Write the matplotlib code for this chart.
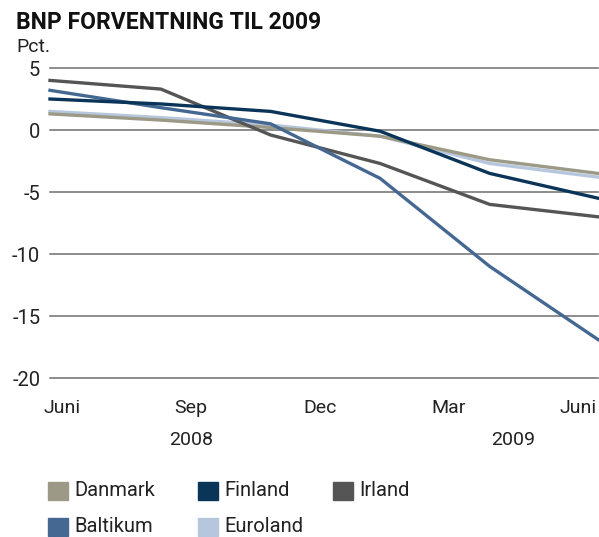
import matplotlib
matplotlib.use("Agg")
import matplotlib.pyplot as plt
from matplotlib.patches import Rectangle

plt.rcParams['font.family'] = ['Roboto', 'DejaVu Sans']

# forecast dates, months after June 2008
months = [-0.28, 2.3, 4.85, 7.4, 9.95, 12.47]

danmark = [1.3, 0.8, 0.2, -0.5, -2.4, -3.5]
finland = [2.5, 2.1, 1.5, -0.1, -3.5, -5.5]
irland = [4.0, 3.3, -0.4, -2.7, -6.0, -7.0]
baltikum = [3.2, 1.8, 0.5, -3.9, -11.0, -16.9]
euroland = [1.5, 1.0, 0.4, -0.5, -2.7, -3.8]

tick_pos = [0, 3, 6, 9, 12]
tick_labels = ["Juni", "Sep", "Dec", "Mar", "Juni"]
years = [(3, "2008"), (10.5, "2009")]
yticks = [5, 0, -5, -10, -15, -20]

colors = {
    "Danmark": "#9c9a86",
    "Finland": "#0b3459",
    "Irland": "#555555",
    "Baltikum": "#456892",
    "Euroland": "#b6c7dd",
}
series = {
    "Danmark": danmark,
    "Finland": finland,
    "Irland": irland,
    "Baltikum": baltikum,
    "Euroland": euroland,
}

fig = plt.figure(figsize=(5.99, 5.37), dpi=100)
ax = fig.add_axes([50/599, 1-378/537, 548/599, 310/537])

for y in yticks:
    ax.axhline(y, color="#6e6e6e", lw=1.1, zorder=1, clip_on=False)

for name in ["Euroland", "Danmark", "Irland", "Baltikum", "Finland"]:
    ax.plot(months, series[name], color=colors[name], lw=2.4,
            solid_joinstyle="round", zorder=3, clip_on=False)

ax.set_xlim(months[0], months[-1])
ax.set_ylim(-20, 5)
for s in ax.spines.values():
    s.set_visible(False)
ax.set_yticks(yticks)
ax.set_yticklabels([str(v) for v in yticks], fontsize=14.5, color="#222222")
ax.set_xticks(tick_pos)
ax.set_xticklabels(tick_labels, fontsize=14, color="#222222")
ax.tick_params(axis="y", length=0, pad=7)
ax.tick_params(axis="x", length=0, pad=15)

for x, lab in years:
    ax.text(x, -0.20, lab, transform=ax.get_xaxis_transform(),
            ha="center", va="center", fontsize=14, color="#222222")

fig.text(16/599, 1-11/537, "BNP FORVENTNING TIL 2009", fontsize=16.5,
         fontweight="bold", va="top", ha="left", color="#111111")
fig.text(16/599, 1-38/537, "Pct.", fontsize=14, va="top", ha="left",
         color="#222222")

# legend, laid out by hand in two rows
legend_rows = [["Danmark", "Finland", "Irland"], ["Baltikum", "Euroland"]]
col_x = [48, 198, 333]
row_y = [491, 527]
for r, row in enumerate(legend_rows):
    for c, name in enumerate(row):
        x0 = col_x[c]
        y0 = row_y[r]
        fig.patches.append(Rectangle((x0/599, 1-(y0+9)/537), 20/599, 18/537,
                                     transform=fig.transFigure,
                                     color=colors[name]))
        fig.text((x0+26)/599, 1-y0/537, name, fontsize=14.5, va="center",
                 ha="left", color="#222222")

fig.savefig("out.png", dpi=100, facecolor="white")
